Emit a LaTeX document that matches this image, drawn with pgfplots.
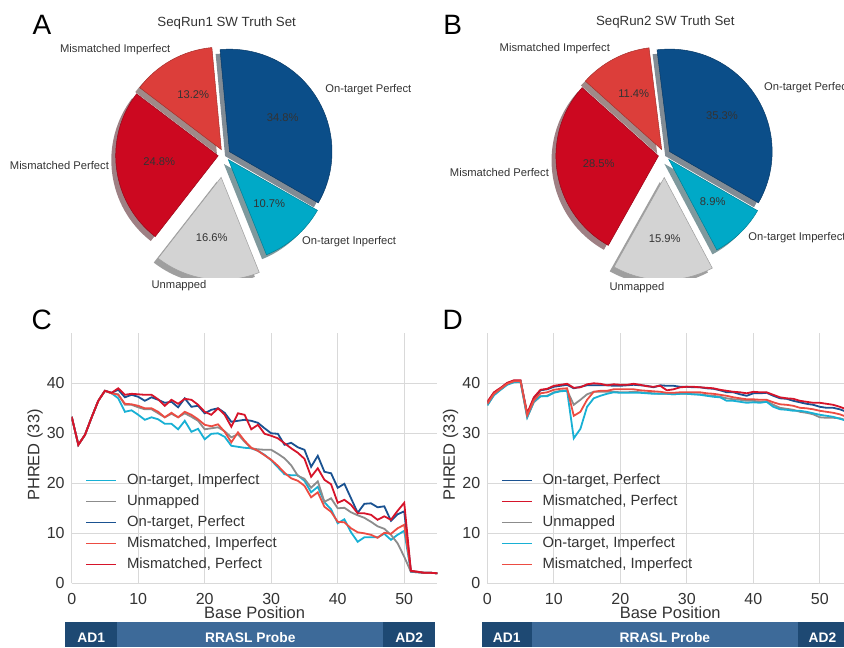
\documentclass[border=0pt]{standalone}
\usepackage{pgfplots}
\usepackage{pgfplotstable}
\pgfplotsset{compat=1.18}
\usepackage{fontspec}
\setmainfont{Liberation Sans}

\definecolor{cOTP}{RGB}{11,78,137}
\definecolor{cOTI}{RGB}{0,169,199}
\definecolor{cUNM}{RGB}{211,211,211}
\definecolor{cMP}{RGB}{204,8,32}
\definecolor{cMI}{RGB}{220,62,58}
\definecolor{lOTP}{RGB}{26,82,145}
\definecolor{lOTI}{RGB}{24,176,212}
\definecolor{lUNM}{RGB}{140,140,140}
\definecolor{lMP}{RGB}{214,20,42}
\definecolor{lMI}{RGB}{236,76,66}
\definecolor{barD}{RGB}{30,73,115}
\definecolor{barL}{RGB}{61,106,153}
\definecolor{txt}{RGB}{51,51,51}

% panel C: x, on-target imperfect, unmapped, on-target perfect, mismatched imperfect, mismatched perfect
\pgfplotstableread{
x oti unm otp mi mp
0 33.3 33.3 33.3 33.3 33.3
1 27.7 27.7 27.7 27.7 27.7
2 29.7 29.7 29.7 29.7 29.7
3 33.2 33.2 33.2 33.2 33.2
4 36.5 36.5 36.5 36.5 36.5
5 38.5 38.5 38.5 38.5 38.5
6 38.0 38.0 38.1 38.0 38.1
7 37.0 37.8 38.7 37.7 39.0
8 34.3 35.7 37.2 35.9 37.7
9 34.6 35.7 37.7 35.8 37.9
10 33.7 35.2 37.3 35.5 37.8
11 32.7 34.8 36.5 35.0 37.7
12 33.2 34.8 37.2 35.0 37.7
13 32.8 34.0 36.7 34.3 36.8
14 31.9 33.2 36.1 33.2 35.5
15 31.9 33.9 36.3 34.1 36.7
16 30.8 33.2 35.2 33.2 35.9
17 32.5 34.0 37.0 34.3 36.9
18 30.3 33.3 35.3 33.7 36.7
19 30.9 32.5 35.5 32.8 35.7
20 28.8 30.8 34.0 31.7 34.3
21 29.9 31.0 34.7 31.4 33.7
22 30.0 31.2 35.0 31.8 35.0
23 29.3 30.4 34.1 30.3 33.7
24 27.5 29.2 32.3 28.2 31.3
25 27.3 29.8 32.5 30.2 34.0
26 27.1 28.3 32.7 28.5 33.7
27 27.0 27.0 32.5 27.1 30.8
28 26.5 26.8 32.1 26.5 31.7
29 25.7 26.7 31.0 25.6 29.9
30 24.6 26.7 30.0 24.7 29.5
31 23.2 25.9 29.9 23.5 29.0
32 21.8 25.0 27.7 22.1 28.0
33 21.6 23.6 28.1 21.0 27.0
34 21.6 21.5 27.2 20.5 26.1
35 20.5 20.9 26.7 19.5 24.9
36 18.2 19.1 23.3 17.2 21.3
37 19.3 20.4 25.5 18.2 23.0
38 16.2 16.3 22.3 15.3 20.7
39 14.8 17.0 22.0 14.3 19.8
40 12.0 15.0 19.1 12.3 16.1
41 12.8 15.1 19.9 12.2 16.7
42 10.2 14.2 17.0 11.0 15.7
43 8.3 13.6 14.1 10.2 14.0
44 9.2 13.1 15.9 10.0 14.0
45 9.2 12.3 16.0 9.7 13.7
46 9.2 11.4 15.2 9.1 12.7
47 9.9 10.9 15.4 10.1 13.4
48 8.7 9.7 12.5 9.9 12.7
49 9.7 8.0 13.8 11.0 14.5
50 10.5 5.3 14.4 11.7 16.1
51 2.3 2.3 2.4 2.5 2.5
52 2.2 2.2 2.3 2.3 2.3
53 2.1 2.1 2.1 2.1 2.1
54 2.1 2.1 2.1 2.1 2.1
55 2.0 2.0 2.0 2.0 2.0
}\tableC

% panel D
\pgfplotstableread{
x otp mp unm oti mi
0 36.1 36.3 35.6 35.6 35.9
1 38.1 38.2 37.7 37.6 37.9
2 39.0 39.1 38.8 38.7 38.9
3 40.0 40.1 39.8 39.7 39.9
4 40.5 40.6 40.3 40.2 40.4
5 40.5 40.6 40.3 40.3 40.4
6 33.8 34.0 33.2 33.2 33.6
7 37.0 37.2 36.2 36.4 36.6
8 38.6 38.7 37.4 37.4 38.0
9 38.8 38.9 37.5 37.4 38.2
10 39.3 39.5 38.2 38.1 38.7
11 39.5 39.7 38.5 38.4 38.9
12 39.7 39.9 38.6 38.5 39.0
13 39.0 39.1 35.7 29.0 33.5
14 39.3 39.2 36.7 30.9 34.3
15 39.6 39.8 37.8 35.3 36.7
16 39.6 40.0 38.3 37.0 38.3
17 39.6 39.9 38.3 37.5 38.5
18 39.6 39.6 38.3 37.9 38.5
19 39.5 39.8 38.3 38.2 38.8
20 39.5 39.7 38.2 38.1 38.8
21 39.6 39.7 38.2 38.1 38.8
22 39.7 39.9 38.3 38.1 38.8
23 39.6 39.7 38.2 38.1 38.6
24 39.5 39.4 38.1 38.0 38.5
25 39.2 39.3 38.0 37.9 38.4
26 39.6 39.5 37.9 37.9 38.3
27 39.5 38.6 37.9 37.9 38.1
28 39.5 38.8 37.8 37.8 38.1
29 39.3 39.2 37.9 37.9 38.2
30 39.3 39.3 37.9 37.9 38.2
31 39.2 39.3 37.8 37.8 38.2
32 39.2 39.2 37.8 37.7 38.2
33 39.0 39.1 37.6 37.5 38.0
34 38.9 39.0 37.5 37.3 37.9
35 38.6 38.7 37.3 37.2 37.7
36 38.2 38.5 37.0 36.5 37.5
37 38.2 38.3 36.8 36.5 37.2
38 37.8 38.2 36.7 36.3 37.0
39 37.5 38.0 36.5 36.1 36.8
40 38.0 38.3 36.5 36.2 36.8
41 38.0 38.2 36.3 36.1 36.7
42 38.1 38.2 36.4 36.3 36.7
43 37.5 37.7 35.7 35.3 36.2
44 37.0 37.2 35.1 34.8 35.8
45 36.9 37.0 34.9 34.7 35.7
46 36.5 36.9 34.7 34.5 35.5
47 36.2 36.5 34.3 34.5 35.1
48 35.9 36.3 34.1 34.3 35.0
49 35.7 36.1 33.8 34.0 34.8
50 35.3 36.1 33.2 33.7 34.5
51 35.1 35.9 33.1 33.5 34.3
52 35.1 35.7 33.1 33.3 34.1
53 34.8 35.3 33.0 32.9 33.8
54 34.3 34.8 32.6 32.5 33.3
}\tableD

\newcommand{\Rp}{51.25pt}
\newcommand{\drawpie}[2]{%
  \xdef\cur{#1}%
  \foreach \p/\col/\e in {#2}{%
    \pgfmathsetmacro\ea{\cur+3.6*\p}%
    \pgfmathsetmacro\ma{(\cur+\ea)/2}%
    \fill[\col!30!black, opacity=0.5] ([xshift=-2.2pt,yshift=-2.2pt]axis cs:0,0) ++(\ma:\e*\Rp) -- ++(\cur:\Rp) arc[start angle=\cur, end angle=\ea, radius=\Rp] -- cycle;
    \xdef\cur{\ea}%
  }%
  \xdef\cur{#1}%
  \foreach \p/\col/\e in {#2}{%
    \pgfmathsetmacro\ea{\cur+3.6*\p}%
    \pgfmathsetmacro\ma{(\cur+\ea)/2}%
    \filldraw[fill=\col, draw=\col!75!black, line width=0.25pt] (axis cs:0,0) ++(\ma:\e*\Rp) -- ++(\cur:\Rp) arc[start angle=\cur, end angle=\ea, radius=\Rp] -- cycle;
    \xdef\cur{\ea}%
  }%
}

\pgfplotsset{
  pieax/.style={scale only axis, width=123pt, height=123pt, xmin=-1.2, xmax=1.2, ymin=-1.2, ymax=1.2, hide axis, anchor=south west},
  linechart/.style={
    scale only axis, width=182.9pt, height=125pt, anchor=south west,
    xmin=0, xmax=55, ymin=0, ymax=50,
    xtick={0,10,20,30,40,50}, ytick={0,10,20,30,40},
    grid=major, grid style={draw=black!15, line width=0.6pt},
    axis line style={draw=none}, major tick length=0pt,
    tick label style={font=\fontsize{8}{9.6}\selectfont, text=txt},
    /pgf/number format/assume math mode=true,
    xticklabel style={yshift=-1.4pt},
    xlabel={Base Position}, ylabel={PHRED (33)},
    label style={font=\fontsize{8.25}{10}\selectfont, text=txt},
    xlabel style={at={(axis description cs:0.5,-0.118)}, anchor=center},
    ylabel style={at={(axis description cs:-0.1003,0.513)}, anchor=center},
    legend cell align=left,
    legend style={at={(axis description cs:0.0364,0.4552)}, anchor=north west, draw=none, fill=none, inner sep=0pt, font=\fontsize{7.4}{8.9}\selectfont, text=txt, column sep=4.9pt, row sep=0pt, nodes={inner sep=0pt, minimum height=10.5pt}},
    legend image code/.code={\draw[##1, line width=0.9pt] (0pt,0pt) -- (15pt,0pt);},
    every axis plot/.append style={line width=0.9pt},
  }
}

\begin{document}
\begin{tikzpicture}[x=0.5pt,y=0.5pt]
% ---------- Pie A ----------
\begin{axis}[pieax, at={(50.65pt,184.5pt)}]
\pgfplotsextra{\drawpie{-30}{34.8/cOTP/0.06, 13.2/cMI/0.06, 24.8/cMP/0.06, 16.6/cUNM/0.22, 10.7/cOTI/0.06}}
\end{axis}
% ---------- Pie B ----------
\begin{axis}[pieax, at={(270.75pt,184.5pt)}]
\pgfplotsextra{\drawpie{-30}{35.3/cOTP/0.06, 11.4/cMI/0.06, 28.5/cMP/0.06, 15.9/cUNM/0.22, 8.9/cOTI/0.06}}
\end{axis}

\begin{scope}[font=\fontsize{5.6}{6.7}\selectfont, text=txt, inner sep=0pt]
\node[anchor=east] at (170.7,597) {Mismatched Imperfect};
\node[anchor=west] at (325,557) {On-target Perfect};
\node[anchor=east] at (109.3,481.3) {Mismatched Perfect};
\node[anchor=west] at (301.7,405.3) {On-target Inperfect};
\node at (179,361) {Unmapped};
\node at (193.3,552.7) {13.2\%};
\node at (282.7,529.7) {34.8\%};
\node at (159.3,485.3) {24.8\%};
\node at (269.3,443) {10.7\%};
\node at (211.7,409.3) {16.6\%};
\node[anchor=east] at (610.3,598.7) {Mismatched Imperfect};
\node[anchor=west] at (763.7,559.7) {On-target Perfect};
\node[anchor=east] at (549.3,474.7) {Mismatched Perfect};
\node[anchor=west] at (748,409.7) {On-target Imperfect};
\node at (637,359.7) {Unmapped};
\node at (633.7,553.7) {11.4\%};
\node at (722,531.3) {35.3\%};
\node at (598.7,483) {28.5\%};
\node at (712.7,445.3) {8.9\%};
\node at (664.7,408) {15.9\%};
\end{scope}
\node[anchor=base, font=\fontsize{6.65}{8}\selectfont, text=txt] at (226.7,620.5) {SeqRun1 SW Truth Set};
\node[anchor=base, font=\fontsize{6.65}{8}\selectfont, text=txt] at (665.3,621.2) {SeqRun2 SW Truth Set};

% ---------- Panel C ----------
\begin{axis}[linechart, at={(35.85pt,31.85pt)}]
\addplot[lOTI] table[x=x,y=oti] {\tableC};
\addlegendentry{On-target, Imperfect}
\addplot[lUNM] table[x=x,y=unm] {\tableC};
\addlegendentry{Unmapped}
\addplot[lOTP] table[x=x,y=otp] {\tableC};
\addlegendentry{On-target, Perfect}
\addplot[lMI] table[x=x,y=mi] {\tableC};
\addlegendentry{Mismatched, Imperfect}
\addplot[lMP] table[x=x,y=mp] {\tableC};
\addlegendentry{Mismatched, Perfect}
\end{axis}

% ---------- Panel D ----------
\begin{axis}[linechart, at={(243.65pt,31.85pt)}]
\addplot[lOTP] table[x=x,y=otp] {\tableD};
\addlegendentry{On-target, Perfect}
\addplot[lMP] table[x=x,y=mp] {\tableD};
\addlegendentry{Mismatched, Perfect}
\addplot[lUNM] table[x=x,y=unm] {\tableD};
\addlegendentry{Unmapped}
\addplot[lOTI] table[x=x,y=oti] {\tableD};
\addlegendentry{On-target, Imperfect}
\addplot[lMI] table[x=x,y=mi] {\tableD};
\addlegendentry{Mismatched, Imperfect}
\end{axis}

% ---------- probe bars ----------
\fill[barD] (65,0) rectangle (117.3,24.7);
\fill[barL] (117.3,0) rectangle (383.3,24.7);
\fill[barD] (383.3,0) rectangle (435,24.7);
\fill[barD] (481.7,0) rectangle (531.7,24.7);
\fill[barL] (531.7,0) rectangle (798,24.7);
\fill[barD] (798,0) rectangle (852,24.7);
\begin{scope}[font=\fontsize{6.9}{8}\selectfont\bfseries, text=white]
\node[anchor=base] at (91.2,4.4) {AD1};
\node[anchor=base] at (250.3,4.4) {RRASL Probe};
\node[anchor=base] at (409.2,4.4) {AD2};
\node[anchor=base] at (506.7,4.4) {AD1};
\node[anchor=base] at (664.9,4.4) {RRASL Probe};
\node[anchor=base] at (822.5,4.4) {AD2};
\end{scope}

% ---------- panel letters ----------
\begin{scope}[font=\fontsize{14}{16}\selectfont, text=black]
\node[anchor=base] at (42,612) {A};
\node[anchor=base] at (452.7,612) {B};
\node[anchor=base] at (41.7,317.5) {C};
\node[anchor=base] at (452.7,317.5) {D};
\end{scope}

\pgfresetboundingbox
\path[use as bounding box] (0,0) rectangle (844,647);
\end{tikzpicture}
\end{document}
